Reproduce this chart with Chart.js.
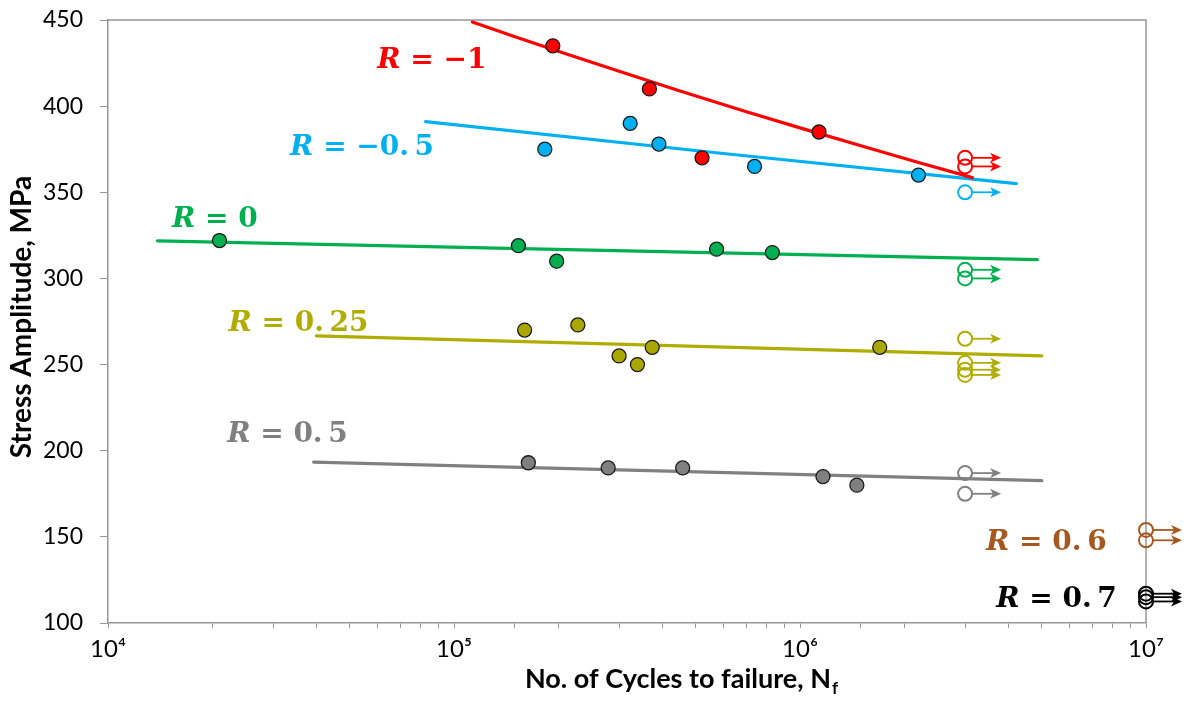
<!DOCTYPE html>
<html>
<head>
<meta charset="utf-8">
<script src="https://cdn.jsdelivr.net/npm/chart.js@4"></script>
<style>
  html, body { margin: 0; padding: 0; background: #fff; }
  #wrap { width: 1188px; height: 704px; }
</style>
</head>
<body>
<div id="wrap"><canvas id="chart"></canvas></div>
<script>
// axis ticks
const xDecades    = [1e4, 1e5, 1e6, 1e7];
const xTickLabels = ['10\u2074', '10\u2075', '10\u2076', '10\u2077'];
const yMin = 100, yMax = 450, yStep = 50;

// test data (cycles to failure, stress amplitude MPa)
const redN   = [1.93e5, 3.67e5, 5.21e5, 1.135e6];
const redS   = [435, 410, 370, 385];
const blueN  = [1.83e5, 3.23e5, 3.91e5, 7.39e5, 2.2e6];
const blueS  = [375, 390, 378, 365, 360];
const greenN = [2.1e4, 1.535e5, 1.98e5, 5.74e5, 8.32e5];
const greenS = [322, 319, 310, 317, 315];
const oliveN = [1.6e5, 2.28e5, 3.0e5, 3.39e5, 3.74e5, 1.7e6];
const oliveS = [270, 273, 255, 250, 260, 260];
const grayN  = [1.64e5, 2.79e5, 4.58e5, 1.165e6, 1.46e6];
const grayS  = [193, 190, 190, 185, 180];

// run-outs (no failure)
const redRunN   = [3e6, 3e6];            const redRunS   = [370, 365];
const blueRunN  = [3e6];                 const blueRunS  = [350];
const greenRunN = [3e6, 3e6];            const greenRunS = [305, 300];
const oliveRunN = [3e6, 3e6, 3e6, 3e6];  const oliveRunS = [265, 251, 247, 244];
const grayRunN  = [3e6, 3e6];            const grayRunS  = [187, 175];
const r06RunN   = [1e7, 1e7];            const r06RunS   = [154, 148];
const r07RunN   = [1e7, 1e7, 1e7];       const r07RunS   = [117, 115, 112.5];

// trend lines
const redFitN   = [1.13e5, 1.5e5, 2e5, 3e5, 4.5e5, 7e5, 1e6, 1.5e6, 2.2e6, 3.15e6];
const redFitS   = [448.8, 440.3, 431.8, 420.2, 408.8, 396.8, 387.4, 377, 367.3, 358.5];
const blueFitN  = [8.28e4, 6e5, 4.22e6];
const blueFitS  = [391, 372.5, 355];
const greenFitN = [1.39e4, 4.85e6];
const greenFitS = [321.8, 310.9];
const oliveFitN = [4e4, 5e6];
const oliveFitS = [266.7, 255.1];
const grayFitN  = [3.93e4, 5e6];
const grayFitS  = [193.4, 182.6];

const RED = '#ff0000', BLUE = '#00b0f0', GREEN = '#00b050', OLIVE = '#b0ad00',
      GRAY = '#808080', BROWN = '#a5581f', BLACK = '#000000', AXIS = '#969696';

const pts = (xs, ys) => xs.map((x, i) => ({ x: x, y: ys[i] }));

function pointSet(xs, ys, fill) {
  return {
    data: pts(xs, ys), showLine: false,
    pointRadius: 7, pointHoverRadius: 7,
    pointBackgroundColor: fill, pointBorderColor: '#1a1a1a', pointBorderWidth: 1.3,
  };
}
function runSet(xs, ys, color) {
  return {
    data: pts(xs, ys), showLine: false, clip: false, runout: true, color: color,
    pointRadius: 7, pointHoverRadius: 7,
    pointBackgroundColor: 'rgba(0,0,0,0)', pointBorderColor: color, pointBorderWidth: 2,
  };
}
function fitSet(xs, ys, color) {
  return {
    data: pts(xs, ys), showLine: true, pointRadius: 0,
    borderColor: color, borderWidth: 3.2, borderCapStyle: 'round', tension: 0,
  };
}

// R labels, anchored in data space (left edge, baseline)
const rLabels = [
  { txt: '\u22121',          n: 6.0e4,  s: 422.4, color: RED },
  { txt: '\u22120.\u20095',  n: 3.36e4, s: 371.7, color: BLUE },
  { txt: '0',                n: 1.53e4, s: 330.1, color: GREEN },
  { txt: '0.\u200925',       n: 2.23e4, s: 269.6, color: OLIVE },
  { txt: '0.\u20095',        n: 2.21e4, s: 204.8, color: GRAY },
  { txt: '0.\u20096',        n: 3.45e6, s: 142.1, color: BROWN },
  { txt: '0.\u20097',        n: 3.69e6, s: 109,   color: BLACK },
];

const decorations = {
  id: 'decorations',
  beforeDatasetsDraw(chart) {
    const { ctx, chartArea: a } = chart;
    ctx.save();
    ctx.strokeStyle = AXIS;
    ctx.lineWidth = 1.5;
    ctx.beginPath();
    ctx.moveTo(a.left, a.top);
    ctx.lineTo(a.right, a.top);
    ctx.lineTo(a.right, a.bottom);
    ctx.stroke();
    ctx.restore();
  },
  afterDatasetsDraw(chart) {
    const { ctx } = chart;
    const xs = chart.scales.x, ys = chart.scales.y;
    ctx.save();
    // run-out arrows
    chart.data.datasets.forEach(ds => {
      if (!ds.runout) return;
      ctx.strokeStyle = ds.color;
      ctx.fillStyle = ds.color;
      ctx.lineWidth = 1.8;
      ds.data.forEach(p => {
        const px = xs.getPixelForValue(p.x), py = ys.getPixelForValue(p.y);
        ctx.beginPath();
        ctx.moveTo(px + 7, py);
        ctx.lineTo(px + 30, py);
        ctx.stroke();
        ctx.beginPath();
        ctx.moveTo(px + 36, py);
        ctx.lineTo(px + 25, py - 5);
        ctx.lineTo(px + 28, py);
        ctx.lineTo(px + 25, py + 5);
        ctx.closePath();
        ctx.fill();
      });
    });
    // R labels
    ctx.textBaseline = 'alphabetic';
    ctx.textAlign = 'left';
    rLabels.forEach(l => {
      let px = xs.getPixelForValue(l.n);
      const py = ys.getPixelForValue(l.s);
      ctx.fillStyle = l.color;
      ctx.font = 'italic bold 28px "DejaVu Serif"';
      ctx.fillText('R', px, py);
      px += ctx.measureText('R').width;
      ctx.font = 'bold 28px "DejaVu Serif"';
      ctx.fillText(' = ' + l.txt, px, py);
    });
    // axis titles
    ctx.fillStyle = '#000';
    ctx.font = 'bold 27px Lato';
    const main = 'No. of Cycles to failure, N';
    const w1 = ctx.measureText(main).width;
    ctx.font = 'bold 17px Lato';
    const w2 = ctx.measureText('f').width;
    const x0 = 681 - (w1 + w2) / 2;
    ctx.font = 'bold 27px Lato';
    ctx.fillText(main, x0, 688);
    ctx.font = 'bold 17px Lato';
    ctx.fillText('f', x0 + w1 + 1, 694);

    ctx.translate(22, 317);
    ctx.rotate(-Math.PI / 2);
    ctx.textAlign = 'center';
    ctx.textBaseline = 'middle';
    ctx.font = 'bold 28px Lato';
    ctx.fillText('Stress Amplitude, MPa', 0, 0);
    ctx.restore();
  }
};

new Chart(document.getElementById('chart'), {
  type: 'scatter',
  data: {
    datasets: [
      pointSet(redN, redS, RED),
      pointSet(blueN, blueS, BLUE),
      pointSet(greenN, greenS, GREEN),
      pointSet(oliveN, oliveS, '#aaa700'),
      pointSet(grayN, grayS, GRAY),
      runSet(redRunN, redRunS, RED),
      runSet(blueRunN, blueRunS, BLUE),
      runSet(greenRunN, greenRunS, GREEN),
      runSet(oliveRunN, oliveRunS, OLIVE),
      runSet(grayRunN, grayRunS, GRAY),
      runSet(r06RunN, r06RunS, BROWN),
      runSet(r07RunN, r07RunS, BLACK),
      fitSet(redFitN, redFitS, RED),
      fitSet(blueFitN, blueFitS, BLUE),
      fitSet(greenFitN, greenFitS, GREEN),
      fitSet(oliveFitN, oliveFitS, OLIVE),
      fitSet(grayFitN, grayFitS, GRAY),
    ]
  },
  options: {
    responsive: true,
    maintainAspectRatio: false,
    animation: false,
    layout: { padding: { top: 20, right: 42, left: 0, bottom: 0 } },
    plugins: { legend: { display: false }, tooltip: { enabled: false } },
    scales: {
      x: {
        type: 'logarithmic',
        min: xDecades[0], max: xDecades[xDecades.length - 1],
        afterFit: s => { s.height = 81; },
        border: { display: true, color: AXIS, width: 1.5 },
        grid: { drawOnChartArea: false, drawTicks: true, tickLength: 5, color: AXIS, lineWidth: 1 },
        ticks: {
          autoSkip: false, maxRotation: 0, padding: 7,
          color: '#000', font: { family: 'Lato', size: 24 },
          callback: v => {
            const i = xDecades.indexOf(v);
            return i >= 0 ? xTickLabels[i] : '';
          }
        }
      },
      y: {
        min: yMin, max: yMax,
        afterFit: s => { s.width = 108; s.paddingTop = 0; s.paddingBottom = 0; },
        border: { display: true, color: AXIS, width: 1.5 },
        grid: { drawOnChartArea: false, drawTicks: true, tickLength: 8, color: AXIS },
        ticks: { stepSize: yStep, padding: 17, color: '#000', font: { family: 'Lato', size: 23 } }
      }
    }
  },
  plugins: [decorations]
});
</script>
</body>
</html>
